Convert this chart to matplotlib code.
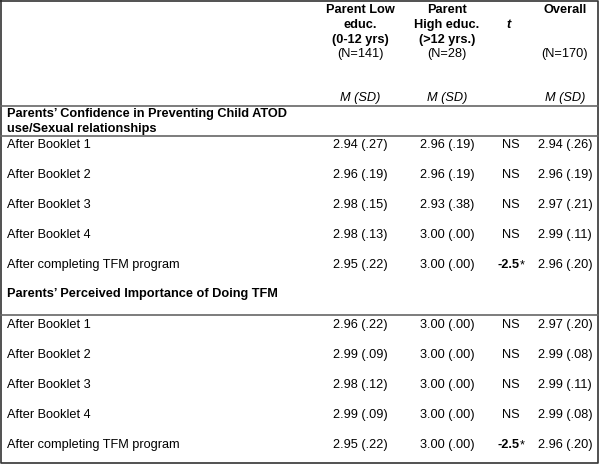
import matplotlib.pyplot as plt

plt.rcParams['font.family'] = ['Liberation Sans', 'DejaVu Sans']

# table content
colHeads = [['Parent Low', 'educ.', '(0-12 yrs)'],
            ['Parent', 'High educ.', '(>12 yrs.)'],
            ['Overall']]
colN = ['(N=141)', '(N=28)', '(N=170)']
sections = [['Parents\u2019 Confidence in Preventing Child ATOD', 'use/Sexual relationships'],
            ['Parents\u2019 Perceived Importance of Doing TFM']]
rowLabels = ['After Booklet 1', 'After Booklet 2', 'After Booklet 3', 'After Booklet 4',
             'After completing TFM program']

# section 1: confidence
confLowM = [2.94, 2.96, 2.98, 2.98, 2.95]
confLowSD = [.27, .19, .15, .13, .22]
confHighM = [2.96, 2.96, 2.93, 3.00, 3.00]
confHighSD = [.19, .19, .38, .00, .00]
confT = ['NS', 'NS', 'NS', 'NS', '-2.5*']
confAllM = [2.94, 2.96, 2.97, 2.99, 2.96]
confAllSD = [.26, .19, .21, .11, .20]

# section 2: importance
impLowM = [2.96, 2.99, 2.98, 2.99, 2.95]
impLowSD = [.22, .09, .12, .09, .22]
impHighM = [3.00, 3.00, 3.00, 3.00, 3.00]
impHighSD = [.00, .00, .00, .00, .00]
impT = ['NS', 'NS', 'NS', 'NS', '-2.5*']
impAllM = [2.97, 2.99, 2.99, 2.99, 2.96]
impAllSD = [.20, .08, .11, .08, .20]


def fmt(m, sd):
    return '%.2f (%s)' % (m, ('%.2f' % sd)[1:])


FS = 9.2
colX = [360, 447, 511, 565]
lineColor = '#666666'

fig = plt.figure(figsize=(6, 4.66), dpi=100)
ax = fig.add_axes([0, 0, 1, 1])
ax.set_xlim(0, 600)
ax.set_ylim(466, 0)
ax.axis('off')

# border and rules
ax.plot([1, 597.5, 597.5, 1, 1], [0.7, 0.7, 463, 463, 0.7], color='#333333', lw=1.2)
for y in [105.5, 135.7, 315]:
    ax.plot([1, 597.5], [y, y], color=lineColor, lw=1.2)

# header
for i, x in enumerate([colX[0], colX[1], colX[3]]):
    for j, line in enumerate(colHeads[i]):
        ax.text(x, 13 + 15 * j, line, ha='center', va='baseline', fontsize=FS,
                fontweight='bold')
    ax.text(x, 57, colN[i], ha='center', va='baseline', fontsize=FS)
    ax.text(x, 101, 'M (SD)', ha='center', va='baseline', fontsize=FS, style='italic')
ax.text(colX[2] - 2, 28, 't', ha='center', va='baseline', fontsize=FS, fontweight='bold',
        style='italic')


def tCell(y, val):
    if val == 'NS':
        ax.text(colX[2], y, val, ha='center', va='baseline', fontsize=FS)
    else:
        ax.text(519, y, val.rstrip('*'), ha='right', va='baseline', fontsize=FS,
                fontweight='bold')
        ax.text(519.5, y, '*', ha='left', va='baseline', fontsize=FS)


def drawSection(title, titleY, y0, lowM, lowSD, highM, highSD, tVals, allM, allSD):
    for j, line in enumerate(title):
        ax.text(7, titleY + 15 * j, line, ha='left', va='baseline', fontsize=FS,
                fontweight='bold')
    for i, label in enumerate(rowLabels):
        y = y0 + 30 * i
        ax.text(7, y, label, ha='left', va='baseline', fontsize=FS)
        ax.text(colX[0], y, fmt(lowM[i], lowSD[i]), ha='center', va='baseline', fontsize=FS)
        ax.text(colX[1], y, fmt(highM[i], highSD[i]), ha='center', va='baseline', fontsize=FS)
        tCell(y, tVals[i])
        ax.text(colX[3], y, fmt(allM[i], allSD[i]), ha='center', va='baseline', fontsize=FS)


drawSection(sections[0], 117, 148, confLowM, confLowSD, confHighM, confHighSD, confT,
            confAllM, confAllSD)
drawSection(sections[1], 297, 328, impLowM, impLowSD, impHighM, impHighSD, impT,
            impAllM, impAllSD)

fig.savefig('out.png', dpi=100, facecolor='white')
